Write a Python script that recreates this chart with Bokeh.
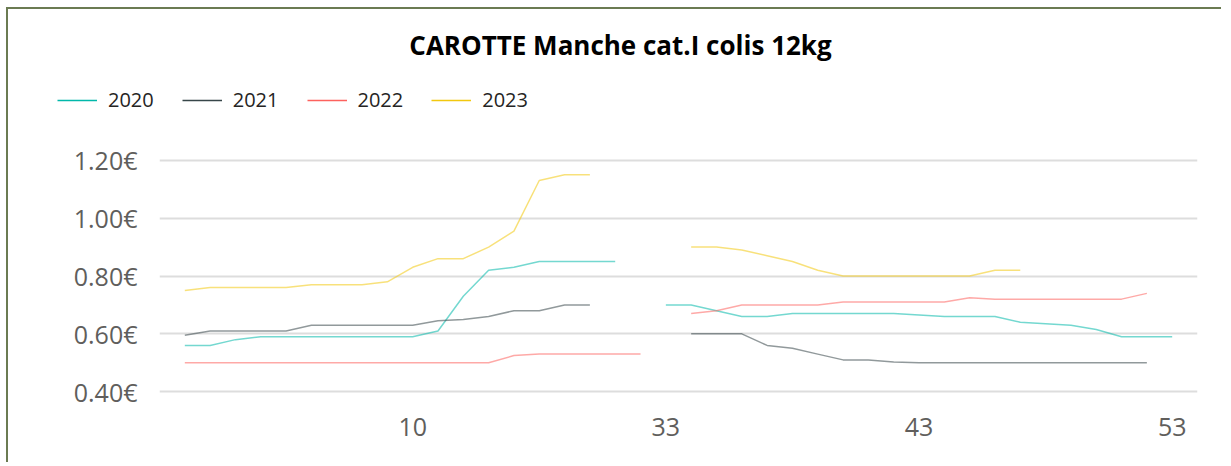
import numpy as np
from bokeh.plotting import figure
from bokeh.models import (Range1d, FixedTicker, PrintfTickFormatter, Legend, LegendItem, Label)
from bokeh.embed import file_html
from bokeh.resources import INLINE

# ---------------- data ----------------
weeks = list(range(1, 20)) + list(range(33, 54))
tick_weeks = [10, 33, 43, 53]
years = ["2020", "2021", "2022", "2023"]
N = None
v2020 = [0.56, 0.56, 0.58, 0.59, 0.59, 0.59, 0.59, 0.59, 0.59, 0.59, 0.61, 0.73, 0.82, 0.83, 0.85, 0.85, 0.85, 0.85, N,
         0.70, 0.70, 0.68, 0.66, 0.66, 0.67, 0.67, 0.67, 0.67, 0.67, 0.665, 0.66, 0.66, 0.66, 0.64, 0.635, 0.63, 0.615, 0.59, 0.59, 0.59]
v2021 = [0.595, 0.61, 0.61, 0.61, 0.61, 0.63, 0.63, 0.63, 0.63, 0.63, 0.645, 0.65, 0.66, 0.68, 0.68, 0.70, 0.70, N, N,
         N, 0.60, 0.60, 0.60, 0.56, 0.55, 0.53, 0.51, 0.51, 0.503, 0.50, 0.50, 0.50, 0.50, 0.50, 0.50, 0.50, 0.50, 0.50, 0.50, N]
v2022 = [0.50, 0.50, 0.50, 0.50, 0.50, 0.50, 0.50, 0.50, 0.50, 0.50, 0.50, 0.50, 0.50, 0.525, 0.53, 0.53, 0.53, 0.53, 0.53,
         N, 0.67, 0.68, 0.70, 0.70, 0.70, 0.70, 0.71, 0.71, 0.71, 0.71, 0.71, 0.725, 0.72, 0.72, 0.72, 0.72, 0.72, 0.72, 0.74, N]
v2023 = [0.75, 0.76, 0.76, 0.76, 0.76, 0.77, 0.77, 0.77, 0.78, 0.83, 0.86, 0.86, 0.90, 0.955, 1.13, 1.15, 1.15, N, N,
         N, 0.90, 0.90, 0.89, 0.87, 0.85, 0.82, 0.80, 0.80, 0.80, 0.80, 0.80, 0.80, 0.82, 0.82, N, N, N, N, N, N]
series = [v2020, v2021, v2022, v2023]
colors = ["#01B8AA", "#374649", "#FD625E", "#F2C80F"]
y_ticks = [0.40, 0.60, 0.80, 1.00, 1.20]
title_text = "CAROTTE Manche cat.I colis 12kg"

FONT = "Open Sans"
W = 1215
BORDER = "2px solid #6B7B52"

# ---------------- header (title + legend) ----------------
HH = 120
head = figure(width=W, height=HH, output_backend="svg", toolbar_location=None,
              x_range=Range1d(0, W), y_range=Range1d(0, HH),
              min_border_left=0, min_border_right=0, min_border_top=0, min_border_bottom=0)
head.styles = {"margin-left": "6px", "margin-top": "7px",
               "border-left": BORDER, "border-top": BORDER}
head.axis.visible = False
head.grid.visible = False
head.outline_line_color = None
head.border_fill_color = "white"
head.add_layout(Label(x=612, y=HH - 35, text=title_text, text_font=FONT, text_font_style="bold",
                      text_font_size="26px", text_color="black",
                      text_align="center", text_baseline="middle"))
items = []
for col, yr in zip(colors, years):
    r = head.line(x=[np.nan], y=[np.nan], line_color=col, line_width=1.5)
    items.append(LegendItem(label=yr, renderers=[r]))
legend = Legend(items=items, orientation="horizontal", location=(49, 16),
                label_text_font=FONT, label_text_font_size="20px", label_text_color="#252423",
                glyph_width=40, glyph_height=20, label_standoff=11, spacing=28,
                padding=0, margin=0, border_line_color=None, background_fill_alpha=0)
head.add_layout(legend, "center")

# ---------------- main chart ----------------
p = figure(width=W, height=335, output_backend="svg", toolbar_location=None,
           x_range=Range1d(-1.0, 40.0), y_range=Range1d(0.38, 1.22),
           min_border_left=151, min_border_right=26, min_border_top=27, min_border_bottom=65)
p.styles = {"margin-left": "6px", "border-left": BORDER}
p.outline_line_color = None
p.background_fill_color = "white"
p.border_fill_color = "white"

x = np.arange(len(weeks))
for vals, col in zip(series, colors):
    y = np.array([np.nan if v is None else v for v in vals], dtype=float)
    p.line(x, y, line_color=col, line_alpha=0.55, line_width=1.5)

tick_pos = [weeks.index(w) for w in tick_weeks]
p.xaxis.ticker = FixedTicker(ticks=tick_pos)
p.xaxis.major_label_overrides = {i: str(weeks[i]) for i in tick_pos}
p.xaxis.axis_line_color = None
p.xaxis.major_tick_line_color = None
p.xaxis.minor_tick_line_color = None
p.xaxis.major_label_text_font = FONT
p.xaxis.major_label_text_font_size = "25px"
p.xaxis.major_label_text_color = "#605E5C"
p.xaxis.major_label_standoff = 14

p.yaxis.ticker = FixedTicker(ticks=y_ticks)
p.yaxis.formatter = PrintfTickFormatter(format="%.2f€")
p.yaxis.axis_line_color = None
p.yaxis.major_tick_line_color = None
p.yaxis.minor_tick_line_color = None
p.yaxis.major_label_text_font = FONT
p.yaxis.major_label_text_font_size = "25px"
p.yaxis.major_label_text_color = "#605E5C"
p.yaxis.major_label_standoff = 16

p.xgrid.grid_line_color = None
p.ygrid.grid_line_color = "#DDDDDD"
p.ygrid.grid_line_width = 2

open("out.html", "w").write(file_html([head, p], INLINE))
